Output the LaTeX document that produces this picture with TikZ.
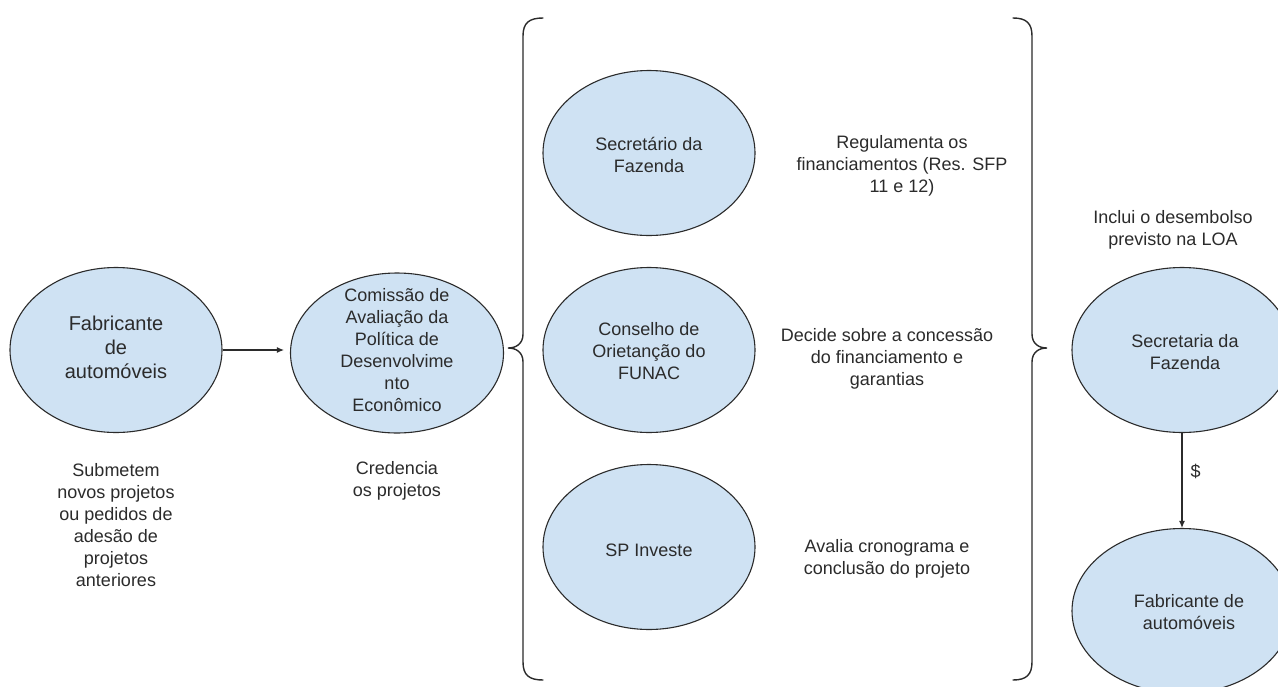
\documentclass[tikz,border=0pt]{standalone}
\usepackage{fontspec}
\setmainfont{Liberation Sans}
\usetikzlibrary{shapes.geometric,arrows.meta}
\definecolor{ellfill}{HTML}{CFE2F3}
\definecolor{inkc}{HTML}{2B2B2B}
\tikzset{
  ell/.style={ellipse, draw=inkc, line width=1.1pt, fill=ellfill, inner sep=0pt,
              minimum width=212pt, minimum height=165pt},
  txt/.style={align=center, text=inkc, inner sep=0pt, font=\fontsize{18}{22}\selectfont},
  bigtxt/.style={align=center, text=inkc, inner sep=0pt, font=\fontsize{20}{24}\selectfont},
  conn/.style={draw=inkc, line width=1.1pt, -{Latex[length=7pt,width=6pt]}},
  bracepath/.style={draw=inkc, line width=1.4pt, line cap=round}
}
\begin{document}
\begin{tikzpicture}[x=1pt,y=-1pt]
\useasboundingbox (0,0) rectangle (1278,686);
\clip (0,0) rectangle (1278,686);
\fill[white] (0,0) rectangle (1278,686);

% left part
\node[ell] (e1) at (116,350) {};
\node[bigtxt] (t1) at (116,347) {Fabricante\\de\\automóveis};
\node[ell, minimum width=213pt, minimum height=160pt] (e2) at (397,353) {};
\node[txt] (t2) at (397,350) {Comissão de\\Avaliação da\\Política de\\Desenvolvime\\nto\\Econômico};
\draw[conn, shorten >=6pt] (e1.east) -- (e1.east -| e2.west);

\node[txt] (tsub) at (116,525) {Submetem\\novos projetos\\ou pedidos de\\adesão de\\projetos\\anteriores};
\node[txt] (tcred) at (397,481) {Credencia\\os projetos};

% left brace
\draw[bracepath] (543,18) .. controls (529,18) and (523,23) .. (523,36)
  -- (523,334) .. controls (523,344) and (516,348) .. (508,348)
  .. controls (516,348) and (523,352) .. (523,362)
  -- (523,662) .. controls (523,675) and (529,680) .. (543,680);

% middle column
\node[ell] (e3) at (649,153) {};
\node[txt] (t3) at (649,155) {Secretário da\\Fazenda};
\node[ell] (e4) at (649,350) {};
\node[txt] (t4) at (649,351) {Conselho de\\Orietanção do\\FUNAC};
\node[ell] (e5) at (649,547) {};
\node[txt] (t5) at (649,550) {SP Investe};

\node[txt] (treg) at (902,166) {Regulamenta os\\financiamentos (Res. SFP\\11 e 12)};
\node[txt] (tdec) at (887,359) {Decide sobre a concessão\\do financiamento e\\garantias};
\node[txt] (tav) at (887,559) {Avalia cronograma e\\conclusão do projeto};

% right brace
\draw[bracepath] (1013,18) .. controls (1026,18) and (1032,23) .. (1032,36)
  -- (1032,334) .. controls (1032,344) and (1039,348) .. (1047,348)
  .. controls (1039,348) and (1032,352) .. (1032,362)
  -- (1032,662) .. controls (1032,675) and (1026,680) .. (1013,680);

% right column
\node[txt] (tincl) at (1173,230) {Inclui o desembolso\\previsto na LOA};
\node[ell, minimum width=220pt] (e6) at (1182,350) {};
\node[txt] (t6) at (1185,352) {Secretaria da\\Fazenda};
\node[ell, minimum width=220pt] (e7) at (1182,611) {};
\node[txt] (t7) at (1189,612) {Fabricante de\\automóveis};
\draw[conn] (e6.south) -- node[txt, right=8pt, pos=0.4] (tdol) {\$} (e7.north);
\end{tikzpicture}
\end{document}
